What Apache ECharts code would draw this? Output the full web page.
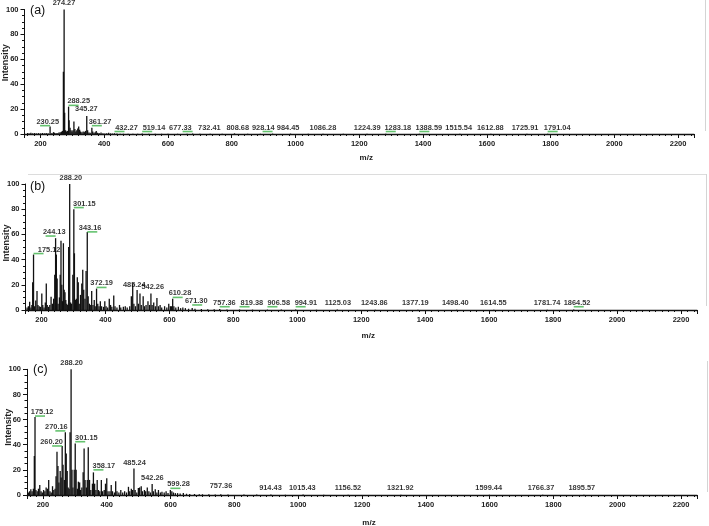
<!DOCTYPE html>
<html><head><meta charset="utf-8">
<script src="https://cdn.jsdelivr.net/npm/echarts@6/dist/echarts.min.js"></script>
<style>html,body{margin:0;padding:0;background:#fff}#c{width:709px;height:526px}</style>
</head><body><div id="c"></div>
<script>
// ---------- data ----------
const xTickLabels = [200,400,600,800,1000,1200,1400,1600,1800,2000,2200];
const yTickLabels = [0,20,40,60,80,100];
const panelNames = ['(a)','(b)','(c)'];

// Panel (a) peaks
const mzA = [160,165,170,176,182,188,194,200,206,212,218,224,230.25,236,241,244,249,254,258,262,266,269,272,274.27,276,279,282,285,288.25,290,293,296,299,302,305,308,311,314,317,320,323,326,330,334,338,341,345.27,348,352,356,361.27,364,368,372,375,379,384,390,396,402,408,414,420,426,432.27,440,450,460,475,490,505,519.14,540,560,580,600,630,660,677.33,700,732.41,770,808.68,850,890,928.14,984.45,1040,1086.28,1150,1224.39,1283.18,1388.59,1515.54,1612.88,1725.91,1791.04];
const intA = [0.8,0.5,1,0.6,0.8,0.5,0.7,0.5,0.8,0.6,0.9,0.7,6,0.8,1.5,1,0.8,0.7,1.2,1.5,1.8,2.5,50,100,17,3,2,2.5,22,11,5,3,2,3,10,4,2,3,4.5,6,3.5,2,1.5,2,1.5,2.5,14.5,3,1.2,1,5,2,1,1.5,2.5,1,0.8,1.2,0.6,0.5,0.6,1,0.5,0.4,0.6,0.4,0.3,0.3,0.3,0.3,0.3,0.5,0.3,0.3,0.2,0.3,0.2,0.2,0.4,0.2,0.3,0.2,0.5,0.2,0.2,0.3,0.3,0.2,0.3,0.2,0.2,0.2,0.2,0.2,0.2,0.2,0.2];
const labelMzA = [274.27,230.25,288.25,345.27,361.27,432.27,519.14,677.33,732.41,808.68,928.14,984.45,1086.28,1224.39,1283.18,1388.59,1515.54,1612.88,1725.91,1791.04];
const labelAtA = [274,223,320,344,387,470,556,639,730,819,899,977,1086,1225,1321,1418,1512,1611,1720,1821];
const labelYA  = [101.7,6.7,23,17,6.7,2,2,2,2,2,2,2,2,2,2,2,2,2,2,2];
const greenA   = [230.25,288.25,361.27,432.27,519.14,677.33,928.14,1283.18,1388.59,1791.04];

// Panel (b) peaks
const mzB = [155,159,163,167,170,172.5,175.12,178,182,186,189,193,197,201,204,208,212,215,218,222,226,230,234,238,241.5,244.13,246.5,249,252,256,258.5,261,263.5,266,268.5,271,273.5,276,279,282,285,288.20,291,294,298,301.15,303,306,309,312,315,318,322,326,329,332,336,339.5,343.16,346,350,354,357,361,365,368,372.19,376,380,384,388,394,398,402,407,412,416,420,426,430,436,444,448,456,462,468,476,481,485.24,489,494,499,503,508,512,518,522,527,533,538,542.26,546,551,556,561,566,571,576,585,592,598,603,606.5,610.28,614,620,628,635,642,650,660,671.30,680,700,720,740,757.36,780,819.38,860,906.58,950,994.91,1060,1125.03,1243.86,1377.19,1498.40,1614.55,1781.74,1864.52];
const intB = [2,3,6.5,2,4,22,44,3,7.5,15,4,3,2.5,13,4,2,6,21,4,2.5,4,10.5,5,9,28,57,44,25,5,10,28,55,20,7,53,16,14,8,5,4,50,100,6,5,28,80,45,8,9,26,22,5,12,21,32,16,9,31,62,11,5,4,15,4,8,3,17,5,3,7,3,2.5,7,3,2,9,4,2.5,11.5,3,2,4,2,2.5,3,2,3,11,21,5,3,15.8,5,13,4,11,3,4,7,4,13,4,6,3,9.5,3,4,2,3,2,5,3,3,9,3,2,2.5,1.5,2,1.5,1,1.5,1,0.8,0.6,0.5,0.8,0.4,0.4,0.3,0.3,0.3,0.3,0.2,0.3,0.2,0.2,0.2,0.2,0.2,0.3];
const labelMzB = [288.20,301.15,244.13,343.16,175.12,372.19,485.24,542.26,610.28,671.30,757.36,819.38,906.58,994.91,1125.03,1243.86,1377.19,1498.40,1614.55,1781.74,1864.52];
const labelAtB = [292,334,240,352,224,388,490,548,633,684,772,858,942,1027,1127,1241,1369,1494,1613,1781,1875];
const labelYB  = [101.6,81.3,58.7,62,44.8,17.9,16.3,15,10,4,2.6,2.6,2.6,2.6,2.6,2.6,2.6,2.6,2.6,2.6,2.6];
const greenB   = [175.12,244.13,301.15,343.16,372.19,610.28,671.30,757.36,819.38,906.58,994.91,1864.52];

// Panel (c) peaks
const mzC = [155,158,162,166,170,173,175.12,178,182,186,190,194,198,202,206,210,214,218,222,226,230,234,238,241,244,247,250,254,257,260.20,263,267,270.16,273,276,279,282,285,288.20,291,294,298,301.15,304,308,311,315,318,322,326,329,332,336,339,342,346,350,355,358.17,362,366,370,374,378,383,387,392,396,400,404,410,414,418,424,428,432,438,444,450,456,462,468,472,477,481,485.24,489,494,499,503,508,512,518,522,527,532,537,542.26,546,552,557,562,568,573,580,586,592,599.28,604,609,615,622,630,640,650,660,675,690,700,720,740,757.36,780,830,870,914.43,960,1015.43,1080,1156.52,1321.92,1599.44,1766.37,1895.57];
const intC = [2,3,4.5,3,5,31,62,4,3,5,8,3,2,4,3,6,5,12,3,2,7,4,5,15,34.5,23,10,19,14,39,24,12,50,33,19,6,5,50,100,20,6,20,41,20,5,10.6,10,4,6,18,37,12,6,12,38,12,4,9,18,9,4,12,4,3,12,3,4,9,13.3,3,3,8,3,2,11,3,2,4,2,3,2,6.5,3,5,4,21,4,2,5.5,6,7,3,4,3,6,3,2,8.7,3,4.5,2,4,2,2.5,2,3,1.5,4,3,2,1.5,1.5,1.2,1.5,1,0.8,0.8,0.6,0.6,0.5,0.4,0.5,0.3,0.3,0.3,0.3,0.2,0.3,0.2,0.2,0.2,0.2,0.2,0.2];
const labelMzC = [288.20,175.12,270.16,260.20,301.15,358.17,485.24,542.26,599.28,757.36,914.43,1015.43,1156.52,1321.92,1599.44,1766.37,1895.57];
const labelAtC = [290,197.5,242,227,336,391,487,543,625,758,913,1013,1156,1320,1597,1761,1889];
const labelYC  = [101.8,62.8,51,39,42.4,20,22.5,10.6,5.3,4,2.7,2.7,2.7,2.7,2.7,2.7,2.7];
const greenC   = [175.12,270.16,260.20,301.15,358.17,599.28];

// ---------- chart ----------
const FONT = 'Liberation Sans, Arial, sans-serif';
const panels = [
  {mz: mzA, it: intA, lmz: labelMzA, lat: labelAtA, ly: labelYA, green: greenA},
  {mz: mzB, it: intB, lmz: labelMzB, lat: labelAtB, ly: labelYB, green: greenB},
  {mz: mzC, it: intC, lmz: labelMzC, lat: labelAtC, ly: labelYC, green: greenC}
];
const grids = [
  {left: 24.5, right: 15, top: 9.5, height: 124.5, containLabel: false, outerBoundsMode: 'none'},
  {left: 25.5, right: 12, top: 184, height: 126, containLabel: false, outerBoundsMode: 'none'},
  {left: 27, right: 12, top: 369.3, height: 125.7, containLabel: false, outerBoundsMode: 'none'}
];
const nameGaps = [20, 22, 24];
const yNamePad = [[0,0,0,18],[0,0,0,8],[0,0,0,10]];

const xAxes = [], yAxes = [], series = [];
panels.forEach((p, i) => {
  xAxes.push({
    type: 'value', gridIndex: i, min: 150, max: 2250, splitNumber: 10,
    name: 'm/z', nameLocation: 'middle', nameGap: nameGaps[i], nameMoveOverlap: false,
    nameTextStyle: {fontFamily: FONT, fontSize: 8, fontWeight: 'bold', color: '#222', padding: [0,0,0,14]},
    axisLine: {show: true, onZero: false, lineStyle: {color: '#111', width: 1.3}},
    axisTick: {show: true, length: 4, lineStyle: {color: '#111', width: 1}},
    minorTick: {show: true, splitNumber: 10, length: 2, lineStyle: {color: '#111', width: 1}},
    splitLine: {show: false}, minorSplitLine: {show: false},
    axisLabel: {fontFamily: FONT, fontSize: 7.5, fontWeight: 'bold', color: '#222', margin: 6,
      showMinLabel: false, showMaxLabel: false,
      formatter: v => xTickLabels.includes(v) ? String(v) : ''}
  });
  yAxes.push({
    type: 'value', gridIndex: i, min: 0, max: 100, interval: 20,
    name: 'Intensity', nameLocation: 'middle', nameGap: 14, nameRotate: 90, nameMoveOverlap: false,
    nameTextStyle: {fontFamily: FONT, fontSize: 9, fontWeight: 'bold', color: '#222', padding: yNamePad[i]},
    axisLine: {show: true, lineStyle: {color: '#111', width: 1}},
    axisTick: {show: true, length: 4, lineStyle: {color: '#111'}},
    minorTick: {show: true, splitNumber: 4, length: 2.5, lineStyle: {color: '#111'}},
    splitLine: {show: false}, minorSplitLine: {show: false},
    axisLabel: {fontFamily: FONT, fontSize: 7.5, fontWeight: 'bold', color: '#222', margin: 6,
      formatter: v => yTickLabels.includes(v) ? String(v) : ''}
  });
  series.push({
    type: 'bar', xAxisIndex: i, yAxisIndex: i, barWidth: 1.3, barGap: '-100%',
    itemStyle: {color: '#111'}, silent: true, animation: false,
    data: p.mz.map((m, k) => [m, p.it[k]])
  });
  series.push({
    type: 'scatter', xAxisIndex: i, yAxisIndex: i, clip: false, animation: false, silent: true,
    symbol: 'circle', symbolSize: 1, itemStyle: {color: 'rgba(0,0,0,0)'},
    labelLayout: {hideOverlap: false},
    label: {show: true, position: 'top', distance: 0, fontFamily: FONT, fontSize: 7.4,
      fontWeight: 'bold', color: '#000', formatter: q => q.value[2]},
    data: p.lmz.map((m, k) => [p.lat[k], p.ly[k], m.toFixed(2)])
  });
  series.push({
    type: 'scatter', xAxisIndex: i, yAxisIndex: i, clip: false, animation: false, silent: true,
    symbol: 'rect', symbolSize: [10, 1.6], itemStyle: {color: '#3db34a'},
    data: p.green.map(m => {
      const k = p.lmz.indexOf(m);
      const dir = p.lat[k] >= m ? 1 : -1;
      return {value: [m, p.ly[k]], symbolOffset: [dir * 5, 0]};
    })
  });
});

const chart = echarts.init(document.getElementById('c'), null, {renderer: 'canvas'});
chart.setOption({
  animation: false,
  backgroundColor: '#fff',
  grid: grids,
  xAxis: xAxes,
  yAxis: yAxes,
  series: series,
  graphic: [
    {type: 'text', left: 30, top: 4, style: {text: panelNames[0], font: '12.5px ' + FONT, fill: '#111'}},
    {type: 'text', left: 30, top: 180, style: {text: panelNames[1], font: '12.5px ' + FONT, fill: '#111'}},
    {type: 'text', left: 33, top: 363, style: {text: panelNames[2], font: '12.5px ' + FONT, fill: '#111'}},
    {type: 'line', shape: {x1: 705.5, y1: 0, x2: 705.5, y2: 131}, style: {stroke: '#d4d4d4', lineWidth: 1}},
    {type: 'line', shape: {x1: 28, y1: 174.5, x2: 706, y2: 174.5}, style: {stroke: '#dcdcdc', lineWidth: 1}},
    {type: 'line', shape: {x1: 706.5, y1: 174, x2: 706.5, y2: 306}, style: {stroke: '#d4d4d4', lineWidth: 1}},
    {type: 'line', shape: {x1: 707.5, y1: 361, x2: 707.5, y2: 492}, style: {stroke: '#d4d4d4', lineWidth: 1}}
  ]
});
</script>
</body></html>
